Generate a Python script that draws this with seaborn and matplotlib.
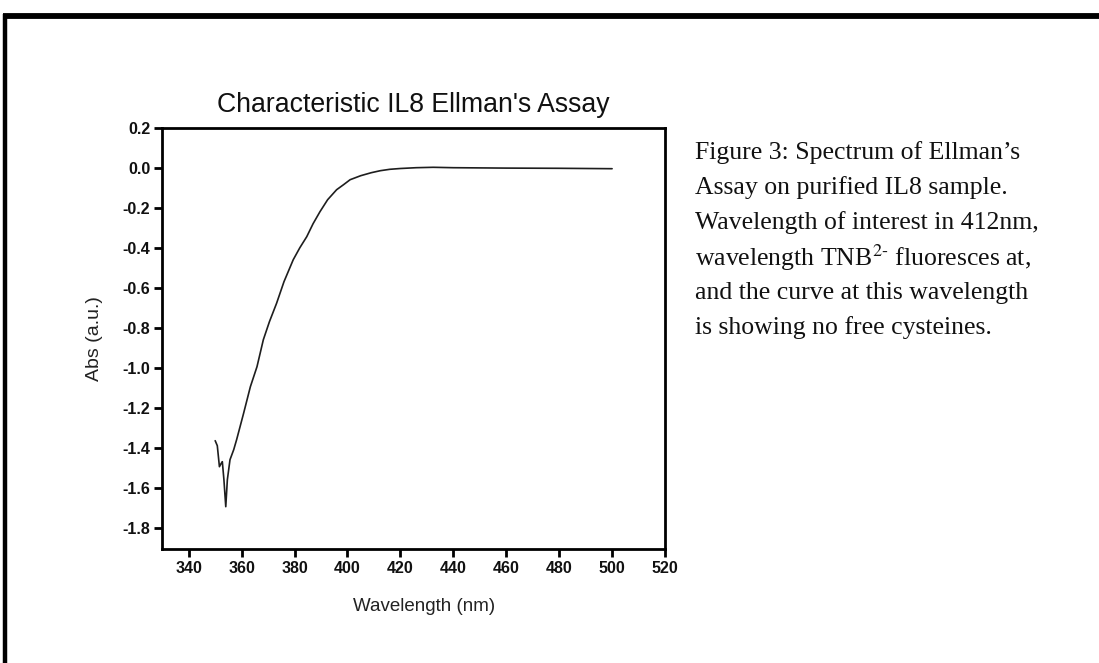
import matplotlib
matplotlib.use("Agg")
import matplotlib.pyplot as plt
import seaborn as sns
import numpy as np
from matplotlib.lines import Line2D

wavelength = [350.0, 350.8, 351.6, 352.2, 352.7, 353.3, 354.0, 354.6, 355.6, 357.0,
              358.1, 360.7, 363.3, 365.8, 368.2, 370.5, 373.2, 376.0, 379.5, 382.0,
              384.6, 387.0, 389.6, 392.5, 395.9, 398.5, 401.0, 405.0, 409.0, 412.4,
              416.0, 420.0, 426.0, 432.4, 440.0, 460.0, 480.0, 500.0]
absorbance = [-1.365, -1.39, -1.495, -1.48, -1.47, -1.56, -1.695, -1.56, -1.46, -1.41,
              -1.36, -1.23, -1.095, -0.995, -0.86, -0.77, -0.678, -0.57, -0.46, -0.40,
              -0.345, -0.28, -0.22, -0.16, -0.11, -0.085, -0.06, -0.04, -0.025, -0.015,
              -0.008, -0.004, 0.0, 0.002, 0.0, -0.002, -0.003, -0.005]

x_ticks = [340, 360, 380, 400, 420, 440, 460, 480, 500, 520]
y_ticks = [0.2, 0.0, -0.2, -0.4, -0.6, -0.8, -1.0, -1.2, -1.4, -1.6, -1.8]
y_tick_labels = ["0.2", "0.0", "-0.2", "-0.4", "-0.6", "-0.8", "-1.0", "-1.2", "-1.4", "-1.6", "-1.8"]

title = "Characteristic IL8 Ellman's Assay"
x_label = "Wavelength (nm)"
y_label = "Abs (a.u.)"
caption_lines = [
    "Figure 3: Spectrum of Ellman\u2019s",
    "Assay on purified IL8 sample.",
    "Wavelength of interest in 412nm,",
    "wavelength TNB$^{2\\text{-}}$ fluoresces at,",
    "and the curve at this wavelength",
    "is showing no free cysteines.",
]

sns.set_style("ticks")
plt.rcParams['font.family'] = ['Liberation Sans', 'DejaVu Sans']

fig = plt.figure(figsize=(10.99, 6.63), dpi=100)
ax = fig.add_axes([162/1099, 1 - 549/663, (665-162)/1099, (549-127.7)/663])

sns.lineplot(x=wavelength, y=absorbance, ax=ax, color="#1e1e1e", linewidth=1.2)

ax.set_xlim(329.9, 520)
ax.set_ylim(-1.9065, 0.2)
ax.set_xticks(x_ticks)
ax.set_xticklabels([str(v) for v in x_ticks])
ax.set_yticks(y_ticks)
ax.set_yticklabels(y_tick_labels)

for s in ax.spines.values():
    s.set_visible(True)
    s.set_linewidth(2.0)
    s.set_color("black")
ax.tick_params(axis="both", direction="out", length=5.5, width=2.0, color="black",
               top=False, right=False, pad=3)
for lab in ax.get_xticklabels() + ax.get_yticklabels():
    lab.set_fontweight("bold")
    lab.set_fontsize(11.5)
    lab.set_color("#111111")

ax.set_xlabel(x_label, fontsize=13.5, color="#222222", labelpad=16)
ax.xaxis.set_label_coords((424 - 162) / (665 - 162), -0.116)
ax.set_ylabel(y_label, fontsize=14, color="#222222", labelpad=14)
ax.set_title(title, fontsize=19.2, color="#111111", pad=11)

y0 = 153
for i, line in enumerate(caption_lines):
    fig.text(695/1099, 1 - (y0 + 35*i)/663, line, fontsize=18.5,
             family=['Liberation Serif', 'DejaVu Serif'], va="center", ha="left",
             color="#111111", math_fontfamily="stix")

# frame border (top and left)
fig.add_artist(Line2D([3/1099, 1.0], [1 - 16/663, 1 - 16/663], transform=fig.transFigure,
                      color="black", linewidth=4.2, solid_capstyle="butt"))
fig.add_artist(Line2D([5/1099, 5/1099], [1 - 13.5/663, 0.0], transform=fig.transFigure,
                      color="black", linewidth=3.2, solid_capstyle="butt"))

fig.savefig("out.png", dpi=100)
